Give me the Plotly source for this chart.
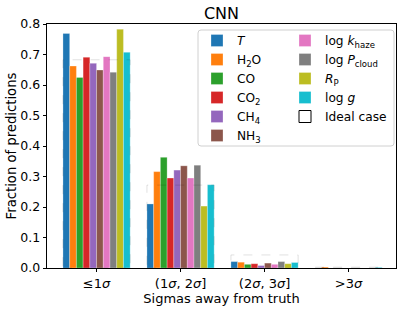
import plotly.graph_objects as go

groups = ["≤1<i>σ</i>", "(1<i>σ</i>, 2<i>σ</i>]", "(2<i>σ</i>, 3<i>σ</i>]", ">3<i>σ</i>"]
params = ["<i>T</i>", "H<sub>2</sub>O", "CO", "CO<sub>2</sub>", "CH<sub>4</sub>", "NH<sub>3</sub>",
          "log <i>k</i><sub>haze</sub>", "log <i>P</i><sub>cloud</sub>", "<i>R</i><sub>P</sub>", "log <i>g</i>"]
colors = ["#1f77b4", "#ff7f0e", "#2ca02c", "#d62728", "#9467bd", "#8c564b",
          "#e377c2", "#7f7f7f", "#bcbd22", "#17becf"]

T_vals = [0.769, 0.210, 0.021, 0.000]
H2O_vals = [0.662, 0.316, 0.019, 0.003]
CO_vals = [0.625, 0.363, 0.012, 0.000]
CO2_vals = [0.691, 0.295, 0.014, 0.000]
CH4_vals = [0.671, 0.321, 0.008, 0.000]
NH3_vals = [0.649, 0.335, 0.016, 0.000]
khaze_vals = [0.693, 0.295, 0.012, 0.000]
Pcloud_vals = [0.642, 0.337, 0.021, 0.000]
Rp_vals = [0.783, 0.203, 0.014, 0.000]
logg_vals = [0.707, 0.273, 0.018, 0.002]
ideal_vals = [0.6827, 0.2718, 0.0428, 0.0027]

series = [T_vals, H2O_vals, CO_vals, CO2_vals, CH4_vals, NH3_vals,
          khaze_vals, Pcloud_vals, Rp_vals, logg_vals]

bar_w = 0.08
n = len(params)
fig = go.Figure()
for i, (name, vals, col) in enumerate(zip(params, series, colors)):
    off = (i - (n - 1) / 2) * bar_w
    fig.add_trace(go.Bar(
        x=[g + off for g in range(len(groups))], y=vals, width=bar_w, name=name,
        marker=dict(color=col, line=dict(color="rgba(255,255,255,0.45)", width=0.6)),
        legend="legend" if i < 6 else "legend2",
        showlegend=True,
    ))

half = n * bar_w / 2
shapes = []
for g, v in enumerate(ideal_vals):
    shapes.append(dict(type="rect", xref="x", yref="y", x0=g - half, x1=g + half, y0=0, y1=v,
                       line=dict(color="rgba(0,0,0,0.12)", width=1, dash="dash"),
                       fillcolor="rgba(0,0,0,0)", layer="above", showlegend=False))
# legend frame
L = 47; R = 396; T = 24; B = 268
pw = R - L; ph = B - T
def px(x): return (x - L) / pw
def py(y): return (B - y) / ph
x0, x1, y0, y1 = px(198), px(394), py(146), py(30)
rx, ry = 3 / pw, 3 / ph
path = (f"M{x0+rx},{y1} L{x1-rx},{y1} Q{x1},{y1} {x1},{y1-ry} L{x1},{y0+ry} Q{x1},{y0} {x1-rx},{y0} "
        f"L{x0+rx},{y0} Q{x0},{y0} {x0},{y0+ry} L{x0},{y1-ry} Q{x0},{y1} {x0+rx},{y1} Z")
shapes.insert(0, dict(type="path", xref="paper", yref="paper", path=path,
                      line=dict(color="#d0d0d0", width=1), fillcolor="rgba(255,255,255,0.8)", layer="above"))
# legend entry for the ideal case (placed outside the axis range so it is clipped)
shapes.append(dict(type="rect", xref="x", yref="y", x0=10, x1=10.1, y0=0, y1=0.1,
                   line=dict(color="black", width=1, dash="dash"), fillcolor="white",
                   showlegend=True, name="Ideal case", legend="legend2"))

font = "DejaVu Sans"
fig.update_layout(
    width=407, height=309,
    margin=dict(l=L, r=407 - R, t=T, b=309 - B),
    paper_bgcolor="white", plot_bgcolor="white",
    font=dict(family=font, size=13, color="black"),
    title=dict(text="CNN", x=(L + R) / 2 / 407, xanchor="center", y=1 - 13 / 309, yanchor="middle",
               font=dict(size=16, family=font)),
    barmode="overlay",
    shapes=shapes,
    legend=dict(x=px(197), y=py(26), xanchor="left", yanchor="top", bgcolor="rgba(0,0,0,0)",
                font=dict(size=12.2, family=font), tracegroupgap=0, itemwidth=30),
    legend2=dict(x=px(285), y=py(26), xanchor="left", yanchor="top", bgcolor="rgba(0,0,0,0)",
                 font=dict(size=12.2, family=font), tracegroupgap=0, itemwidth=30),
    xaxis=dict(range=[-0.59, 3.565], tickvals=list(range(len(groups))), ticktext=groups,
               ticks="outside", ticklen=3.5, tickwidth=0.8, tickcolor="black", automargin=False,
               showline=True, linecolor="black", linewidth=0.8, mirror=True, showgrid=False, zeroline=False,
               title=dict(text="Sigmas away from truth", standoff=2, font=dict(size=13)),
               tickfont=dict(size=13)),
    yaxis=dict(range=[0, 0.8], tickvals=[0, 0.1, 0.2, 0.3, 0.4, 0.5, 0.6, 0.7, 0.8], tickformat=".1f",
               ticks="outside", ticklen=3.5, tickwidth=0.8, tickcolor="black", automargin="left",
               showline=True, linecolor="black", linewidth=0.8, mirror=True, showgrid=False, zeroline=False,
               title=dict(text="Fraction of predictions", standoff=0, font=dict(size=13.2)),
               tickfont=dict(size=12.5)),
)
fig.write_html("out.html", config={"displayModeBar": False},
               post_script="document.body.style.margin='0';document.body.style.overflow='hidden';")
